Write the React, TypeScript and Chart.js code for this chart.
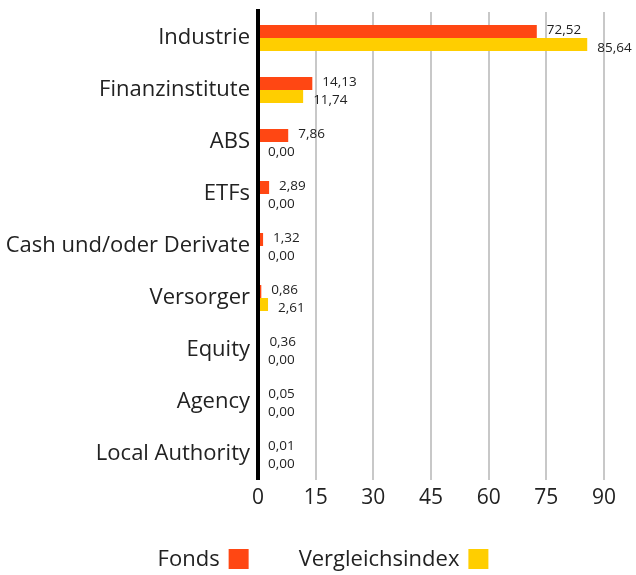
import React, { useEffect, useRef } from "react";
import { Chart, registerables } from "chart.js";

Chart.register(...registerables);

const categories = [
  "Industrie",
  "Finanzinstitute",
  "ABS",
  "ETFs",
  "Cash und/oder Derivate",
  "Versorger",
  "Equity",
  "Agency",
  "Local Authority",
];
const fondsValues = [72.52, 14.13, 7.86, 2.89, 1.32, 0.86, 0.36, 0.05, 0.01];
const indexValues = [85.64, 11.74, 0, 0, 0, 2.61, 0, 0, 0];
const seriesNames = ["Fonds", "Vergleichsindex"];
const seriesColors = ["#FF4713", "#FFCE00"];
const xTickValues = [0, 15, 30, 45, 60, 75, 90];

const FONT = "'Open Sans', 'Noto Sans', sans-serif";

const fmt = (v: number) => v.toFixed(2).replace(".", ",");

const overlayPlugin = {
  id: "overlay",
  afterDatasetsDraw(chart: any) {
    const ctx = chart.ctx;
    const area = chart.chartArea;
    const xs = chart.scales.x;
    const x0 = xs.getPixelForValue(0);
    ctx.save();
    ctx.strokeStyle = "#000";
    ctx.lineWidth = 4;
    ctx.beginPath();
    ctx.moveTo(x0, area.top - 3);
    ctx.lineTo(x0, area.bottom);
    ctx.stroke();
    ctx.font = `13.5px ${FONT}`;
    ctx.fillStyle = "#222";
    ctx.textAlign = "left";
    ctx.textBaseline = "middle";
    chart.data.datasets.forEach((ds: any, di: number) => {
      const meta = chart.getDatasetMeta(di);
      meta.data.forEach((el: any, i: number) => {
        const v = ds.data[i];
        const dy = di === 0 ? -1.5 : 4;
        ctx.fillText(fmt(v), el.x + 10, el.y + dy);
      });
    });
    ctx.restore();
  },
  afterDraw(chart: any) {
    const ctx = chart.ctx;
    ctx.save();
    ctx.font = `22px ${FONT}`;
    ctx.textBaseline = "middle";
    ctx.textAlign = "left";
    const box = 20;
    const gapText = 9;
    const gapItems = 50;
    const widths = seriesNames.map((n) => ctx.measureText(n).width);
    const total =
      widths.reduce((a, b) => a + b, 0) +
      seriesNames.length * (gapText + box) +
      gapItems * (seriesNames.length - 1);
    let x = 323 - total / 2;
    const cy = 559;
    seriesNames.forEach((n, i) => {
      ctx.fillStyle = "#222";
      ctx.fillText(n, x, cy + 1);
      x += widths[i] + gapText;
      ctx.fillStyle = seriesColors[i];
      ctx.fillRect(x, cy - box / 2, box, box);
      x += box + gapItems;
    });
    ctx.restore();
  },
};

export default function App() {
  const ref = useRef<HTMLCanvasElement | null>(null);
  useEffect(() => {
    if (!ref.current) return;
    const chart = new Chart(ref.current, {
      type: "bar",
      data: {
        labels: categories,
        datasets: [
          {
            label: seriesNames[0],
            data: fondsValues,
            backgroundColor: seriesColors[0],
            categoryPercentage: 0.5,
            barPercentage: 1,
          },
          {
            label: seriesNames[1],
            data: indexValues,
            backgroundColor: seriesColors[1],
            categoryPercentage: 0.5,
            barPercentage: 1,
          },
        ],
      },
      options: {
        indexAxis: "y",
        animation: false,
        responsive: false,
        maintainAspectRatio: false,
        layout: { padding: { top: 12, right: 32, bottom: 55, left: 0 } },
        plugins: {
          legend: { display: false },
          tooltip: { enabled: false },
        },
        scales: {
          x: {
            min: 0,
            max: 90,
            afterBuildTicks: (scale: any) => {
              scale.ticks = xTickValues.map((v) => ({ value: v }));
            },
            afterFit: (scale: any) => {
              scale.height = 40;
              scale.paddingLeft = 0;
              scale.paddingRight = 0;
            },
            ticks: {
              font: { family: FONT, size: 21 },
              color: "#222",
              padding: 5,
              maxRotation: 0,
              callback: (v: any) => String(v),
            },
            grid: {
              drawTicks: false,
              color: (c: any) => (c.tick && c.tick.value === 0 ? "rgba(0,0,0,0)" : "#c8c8c8"),
              lineWidth: 2,
            },
            border: { display: false },
          },
          y: {
            afterFit: (scale: any) => {
              scale.width = 258;
              scale.paddingTop = 0;
              scale.paddingBottom = 0;
            },
            ticks: {
              font: { family: FONT, size: 22 },
              color: "#222",
              padding: 8,
            },
            grid: { display: false, drawTicks: false },
            border: { display: false },
          },
        },
      },
      plugins: [overlayPlugin],
    });
    return () => chart.destroy();
  }, []);
  return (
    <div style={{ position: "fixed", left: 0, top: 0, width: 636, height: 575, background: "#fff" }}>
      <canvas ref={ref} width={636} height={575} style={{ width: 636, height: 575 }} />
    </div>
  );
}
